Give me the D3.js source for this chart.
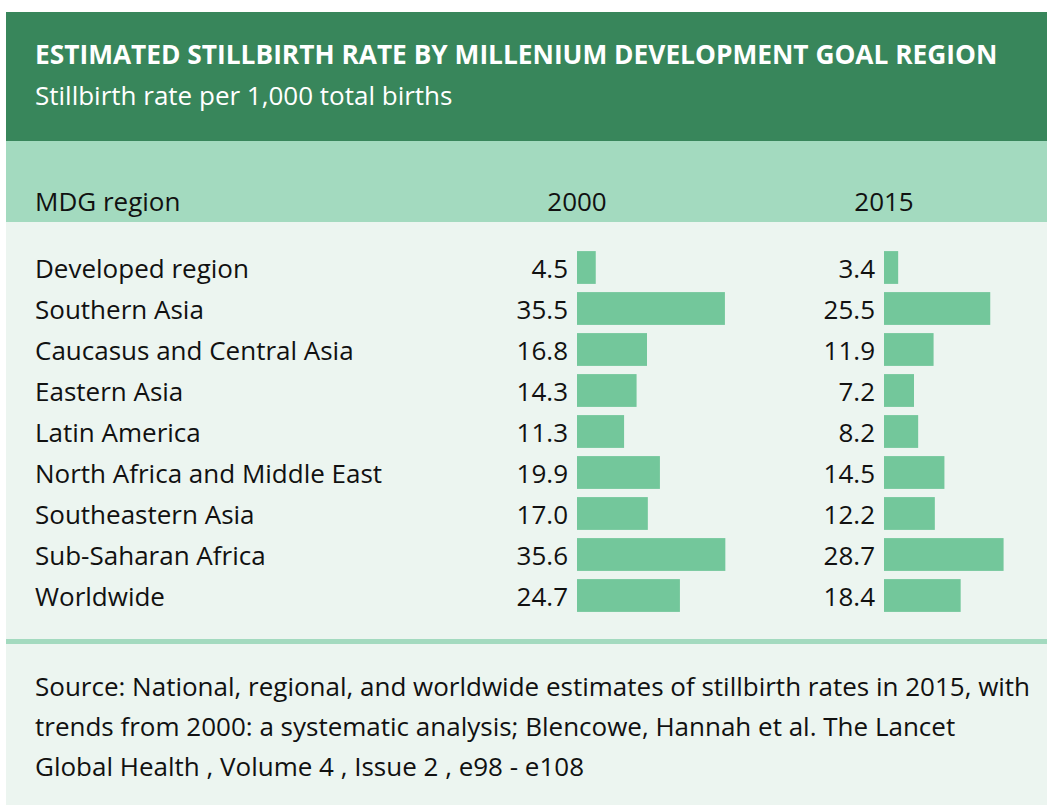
<!DOCTYPE html>
<html lang="en">
<head>
<meta charset="UTF-8"/>
<title>Stillbirth rate by MDG region</title>
<script src="https://d3js.org/d3.v7.js"></script>
<style>
  body { margin: 0; background: #fff; }
  text { font-family: "Open Sans", sans-serif; }
</style>
</head>
<body>
<div id="chart"></div>
<script>
// data
const regions = ["Developed region", "Southern Asia", "Caucasus and Central Asia", "Eastern Asia",
  "Latin America", "North Africa and Middle East", "Southeastern Asia", "Sub-Saharan Africa", "Worldwide"];
const rate2000 = [4.5, 35.5, 16.8, 14.3, 11.3, 19.9, 17.0, 35.6, 24.7];
const rate2015 = [3.4, 25.5, 11.9, 7.2, 8.2, 14.5, 12.2, 28.7, 18.4];
const years = ["2000", "2015"];
const sourceLines = [
  "Source: National, regional, and worldwide estimates of stillbirth rates in 2015, with",
  "trends from 2000: a systematic analysis; Blencowe, Hannah et al. The Lancet",
  "Global Health , Volume 4 , Issue 2 , e98 - e108"
];

const width = 1047, height = 805;
const fs = "26px";
const svg = d3.select("#chart").append("svg")
  .attr("width", width)
  .attr("height", height);

// panels
svg.append("rect").attr("x", 6).attr("y", 12).attr("width", width - 6).attr("height", height - 12).attr("fill", "#ecf5f0");
svg.append("rect").attr("x", 6).attr("y", 12).attr("width", width - 6).attr("height", 129).attr("fill", "#38865b");
svg.append("rect").attr("x", 6).attr("y", 141).attr("width", width - 6).attr("height", 81).attr("fill", "#a3dabf");
svg.append("rect").attr("x", 6).attr("y", 639).attr("width", width - 6).attr("height", 5).attr("fill", "#a3dabf");

svg.append("text")
  .attr("x", 35).attr("y", 64)
  .attr("fill", "#fff")
  .style("font-size", "26.3px").style("font-weight", "bold")
  .text("ESTIMATED STILLBIRTH RATE BY MILLENIUM DEVELOPMENT GOAL REGION");
svg.append("text")
  .attr("x", 35).attr("y", 105)
  .attr("fill", "#fff")
  .style("font-size", fs)
  .text("Stillbirth rate per 1,000 total births");

// scales
const y = d3.scaleBand()
  .domain(regions)
  .range([247, 247 + 41 * regions.length])
  .paddingInner(0.2)
  .paddingOuter(0.1);

const x = d3.scaleLinear().domain([0, 36]).range([0, 150]);
const colX = d3.scaleOrdinal().domain(years).range([577, 884]);

// header row
svg.append("text")
  .attr("x", 35).attr("y", 211)
  .attr("fill", "#111")
  .style("font-size", fs)
  .text("MDG region");
svg.selectAll(".yearLabel")
  .data(years)
  .join("text")
  .attr("class", "yearLabel")
  .attr("x", d => colX(d))
  .attr("y", 211)
  .attr("text-anchor", "middle")
  .attr("fill", "#111")
  .style("font-size", fs)
  .text(d => d);

// region names
svg.selectAll(".region")
  .data(regions)
  .join("text")
  .attr("class", "region")
  .attr("x", 35)
  .attr("y", d => y(d) + y.bandwidth() / 2)
  .attr("dy", "0.4em")
  .attr("fill", "#111")
  .style("font-size", fs)
  .text(d => d);

// bars + values per year
const series = [rate2000, rate2015];
years.forEach((yr, i) => {
  const rows = regions.map((r, j) => ({ region: r, value: series[i][j] }));
  const g = svg.append("g").attr("transform", `translate(${colX(yr)},0)`);
  g.selectAll("rect")
    .data(rows)
    .join("rect")
    .attr("x", 0)
    .attr("y", d => y(d.region))
    .attr("width", d => x(d.value))
    .attr("height", y.bandwidth())
    .attr("fill", "#73c79b");
  g.selectAll("text")
    .data(rows)
    .join("text")
    .attr("x", -9)
    .attr("y", d => y(d.region) + y.bandwidth() / 2)
    .attr("dy", "0.4em")
    .attr("text-anchor", "end")
    .attr("fill", "#111")
    .style("font-size", fs)
    .text(d => d3.format(".1f")(d.value));
});

// source
svg.selectAll(".source")
  .data(sourceLines)
  .join("text")
  .attr("class", "source")
  .attr("x", 35)
  .attr("y", (d, i) => 696 + i * 40)
  .attr("fill", "#111")
  .style("font-size", fs)
  .text(d => d);
</script>
</body>
</html>
